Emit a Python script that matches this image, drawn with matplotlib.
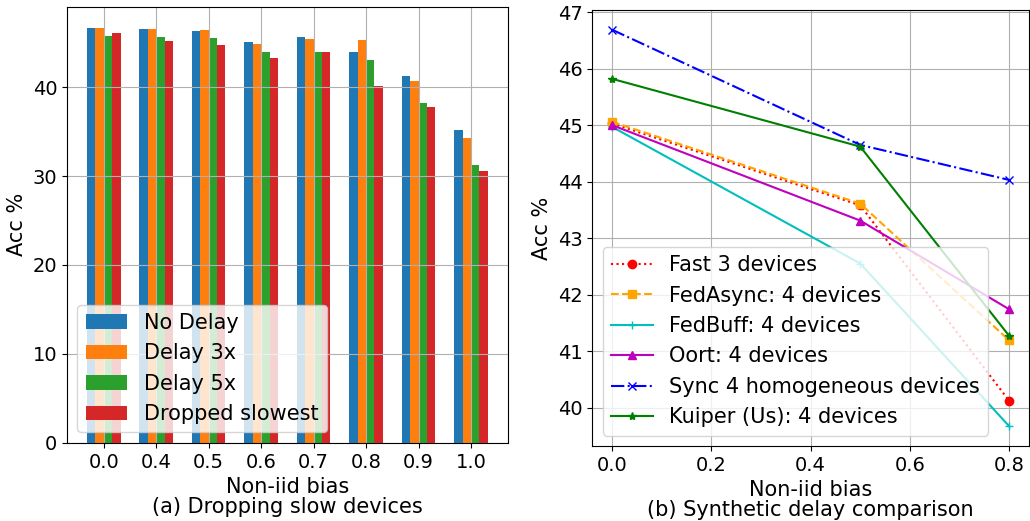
import matplotlib.pyplot as plt
import numpy as np

# left panel: dropping slow devices
bias_labels = ["0.0", "0.4", "0.5", "0.6", "0.7", "0.8", "0.9", "1.0"]
no_delay = [46.7, 46.5, 46.3, 45.1, 45.65, 44.0, 41.2, 35.2]
delay_3x = [46.7, 46.5, 46.4, 44.9, 45.4, 45.3, 40.7, 34.3]
delay_5x = [45.8, 45.65, 45.5, 44.0, 43.9, 43.0, 38.2, 31.2]
dropped = [46.05, 45.2, 44.7, 43.3, 43.9, 40.1, 37.8, 30.6]

# right panel: synthetic delay comparison
bias = [0.0, 0.5, 0.8]
fast3 = [45.03, 43.58, 40.12]
fedasync = [45.06, 43.61, 41.19]
fedbuff = [44.97, 42.55, 39.67]
oort = [45.0, 43.31, 41.74]
sync4 = [46.69, 44.65, 44.03]
kuiper = [45.82, 44.62, 41.27]

plt.rcParams['font.size'] = 14
plt.rcParams['axes.labelsize'] = 15
plt.rcParams['legend.fontsize'] = 15

fig = plt.figure(figsize=(10.3, 5.21), dpi=100)
ax1 = fig.add_axes([0.065, 0.15, 0.428, 0.837])
ax2 = fig.add_axes([0.575, 0.144, 0.424, 0.837])

x = np.arange(len(bias_labels))
w = 0.16
ax1.bar(x - 1.5 * w, no_delay, w, label="No Delay")
ax1.bar(x - 0.5 * w, delay_3x, w, label="Delay 3x")
ax1.bar(x + 0.5 * w, delay_5x, w, label="Delay 5x")
ax1.bar(x + 1.5 * w, dropped, w, label="Dropped slowest")
ax1.set_xticks(x)
ax1.set_xticklabels(bias_labels)
ax1.set_ylabel("Acc %")
ax1.set_xlabel("Non-iid bias\n(a) Dropping slow devices", linespacing=1.0)
ax1.grid(True)
ax1.legend(loc="lower left")

ax2.plot(bias, fast3, 'r:', marker='o', ms=6, label="Fast 3 devices")
ax2.plot(bias, fedasync, '--', color='orange', marker='s', ms=6, label="FedAsync: 4 devices")
ax2.plot(bias, fedbuff, 'c-', marker='+', ms=6, label="FedBuff: 4 devices")
ax2.plot(bias, oort, 'm-', marker='^', ms=6, label="Oort: 4 devices")
ax2.plot(bias, sync4, 'b-.', marker='x', ms=6, label="Sync 4 homogeneous devices")
ax2.plot(bias, kuiper, 'g-', marker='*', ms=6, label="Kuiper (Us): 4 devices")
ax2.set_ylabel("Acc %")
ax2.set_xlabel("Non-iid bias\n(b) Synthetic delay comparison", linespacing=1.0)
ax2.grid(True)
ax2.legend(loc="lower left")

fig.savefig("out.png", dpi=100)
